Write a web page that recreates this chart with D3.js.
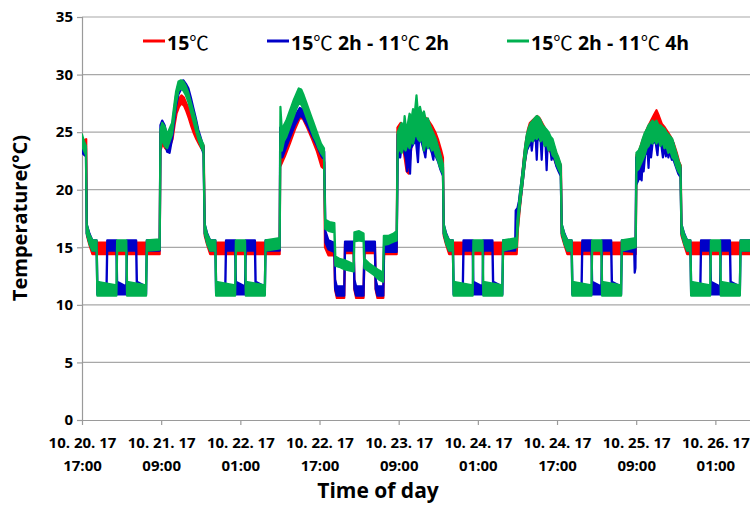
<!DOCTYPE html>
<html>
<head>
<meta charset="utf-8">
<script src="https://cdn.jsdelivr.net/npm/d3@7"></script>
<style>
    body { margin: 0; background: #fff; }
    svg text { font-family: "Open Sans", "Noto Sans", sans-serif; font-weight: 700; fill: #000; }
    .deg { font-family: "Noto Sans CJK KR", sans-serif; font-weight: 400; }
</style>
</head>
<body>
<svg id="chart" width="750" height="505"></svg>
<script>
// hours since 10.20 17:00 ; each point = [hour, low, high] of the plotted trace
const redSeries = [
    [0, 23.6, 24.4], [0.5, 23.5, 24.3], [0.85, 23.4, 24.4],
    [1.0, 16.0, 16.8], [1.5, 15.2, 16.0], [2.1, 14.4, 15.4], [15.7, 14.4, 15.4],
    [15.85, 23.4, 25.0], [16.3, 24.0, 25.2], [16.8, 23.6, 24.8], [17.3, 23.4, 24.6], [17.8, 23.8, 24.8],
    [18.3, 24.4, 25.4], [18.7, 25.6, 26.6], [19.1, 26.6, 27.4], [19.6, 27.2, 27.9], [20.1, 27.5, 28.2],
    [20.6, 27.3, 28.0], [21.1, 26.8, 27.5], [21.6, 26.2, 27.0], [22.1, 25.5, 26.3], [22.6, 24.9, 25.7],
    [23.1, 24.4, 25.1], [23.6, 24.0, 24.6], [24.1, 23.6, 24.1], [24.6, 23.3, 23.8],
    [24.8, 16.0, 16.8], [25.3, 15.2, 16.0], [25.9, 14.4, 15.4], [39.95, 14.4, 15.4],
    [40.05, 22.0, 22.8], [41.0, 22.9, 23.6], [42.0, 24.0, 24.7], [43.0, 25.2, 25.9], [44.0, 26.2, 26.9],
    [44.6, 26.2, 26.9], [45.5, 25.4, 26.0], [46.5, 24.4, 25.0], [47.5, 23.3, 23.9], [48.4, 22.0, 22.6],
    [48.95, 21.8, 22.4],
    [49.1, 15.0, 15.9], [49.8, 14.3, 15.0], [51.0, 14.3, 15.0],
    [51.15, 11.3, 12.0], [51.5, 10.6, 11.3], [53.0, 10.6, 11.3],
    [53.15, 14.5, 15.3], [54.9, 14.5, 15.3],
    [55.05, 11.3, 12.0], [55.4, 10.6, 11.3], [56.9, 10.6, 11.3],
    [57.1, 14.5, 15.3], [59.2, 14.5, 15.3],
    [59.35, 11.3, 12.0], [59.7, 10.6, 11.3], [60.9, 10.6, 11.3],
    [61.05, 14.4, 15.2], [63.6, 14.4, 15.2],
    [63.75, 23.6, 25.4], [64.4, 24.2, 25.8], [65.0, 23.4, 25.4], [65.6, 21.6, 24.8], [66.0, 21.4, 24.6],
    [66.6, 23.8, 25.8], [67.2, 24.4, 26.2], [67.8, 24.8, 26.6], [68.4, 24.8, 26.6], [69.0, 24.6, 26.4],
    [69.6, 24.4, 26.2], [70.2, 24.2, 25.9], [70.8, 23.8, 25.5], [71.4, 23.4, 25.0], [72.0, 22.8, 24.3],
    [72.6, 22.0, 23.4], [72.95, 21.6, 22.8],
    [73.1, 16.0, 16.8], [73.6, 15.2, 16.0], [74.2, 14.4, 15.4], [87.85, 14.4, 15.4],
    [88.1, 16.6, 17.6], [88.5, 18.4, 19.4], [88.9, 20.0, 21.0], [89.3, 21.6, 22.8], [89.7, 23.0, 24.2],
    [90.1, 24.0, 25.2], [90.5, 24.6, 25.8], [91.0, 24.8, 26.0], [91.5, 25.0, 26.2], [92.0, 25.2, 26.4],
    [92.5, 25.0, 26.2], [93.0, 24.6, 25.8], [93.5, 24.2, 25.4], [94.0, 23.8, 25.0], [94.5, 23.4, 24.6],
    [95.0, 23.0, 24.2], [95.5, 22.6, 23.6], [96.0, 22.0, 23.0], [96.5, 21.6, 22.4], [96.8, 21.3, 22.1],
    [96.95, 16.0, 16.8], [97.5, 15.2, 16.0], [98.1, 14.4, 15.4], [111.9, 14.4, 15.4],
    [112.05, 21.8, 23.0], [112.6, 22.0, 23.4], [113.2, 22.6, 24.2], [113.8, 23.4, 24.9], [114.4, 24.0, 25.5],
    [115.0, 24.4, 26.0], [115.6, 24.8, 26.5], [116.1, 25.0, 26.9], [116.6, 24.8, 26.4], [117.2, 24.4, 25.7],
    [117.8, 24.0, 25.4], [118.4, 23.6, 25.0], [119.0, 23.2, 24.6], [119.6, 22.8, 24.0], [120.2, 22.2, 23.2],
    [120.7, 21.6, 22.4], [121.0, 21.3, 22.1],
    [121.15, 16.0, 16.8], [121.7, 15.2, 16.0], [122.3, 14.4, 15.4], [135, 14.4, 15.4]
];

const blueSeries = [
    [0, 23.2, 24.2], [0.5, 23.0, 23.9], [0.8, 22.9, 23.6],
    [0.95, 16.2, 17.0], [1.5, 15.4, 16.2], [2.1, 14.7, 15.6], [2.95, 14.7, 15.6],
    [3.1, 10.9, 12.0], [4.95, 10.9, 11.6], [5.1, 14.7, 15.6], [6.95, 14.7, 15.6],
    [7.1, 10.9, 12.0], [8.95, 10.9, 11.6], [9.1, 14.7, 15.6], [10.95, 14.7, 15.6],
    [11.1, 10.9, 12.0], [12.95, 10.9, 11.6], [13.1, 14.7, 15.6], [15.7, 14.7, 15.6],
    [15.85, 23.5, 25.6], [16.2, 24.8, 26.0], [16.7, 24.2, 25.6], [17.2, 23.3, 24.6], [17.7, 23.2, 24.4],
    [18.2, 24.4, 25.4], [18.6, 25.8, 26.8], [19.0, 27.2, 28.2], [19.5, 28.3, 29.2], [20.0, 28.7, 29.4],
    [20.5, 28.8, 29.5], [21.0, 28.5, 29.2], [21.5, 28.0, 28.8], [22.0, 27.2, 28.0], [22.5, 26.3, 27.1],
    [23.0, 25.4, 26.2], [23.5, 24.6, 25.2], [24.0, 23.9, 24.5], [24.55, 23.1, 23.7],
    [24.8, 16.2, 17.0], [25.3, 15.4, 16.2], [25.9, 14.7, 15.6], [26.95, 14.7, 15.6],
    [27.1, 10.9, 12.0], [28.95, 10.9, 11.6], [29.1, 14.7, 15.6], [30.95, 14.7, 15.6],
    [31.1, 10.9, 12.0], [32.95, 10.9, 11.6], [33.1, 14.7, 15.6], [34.95, 14.7, 15.6],
    [35.1, 10.9, 12.0], [36.95, 10.9, 11.6], [37.1, 14.7, 15.6], [39.95, 14.7, 15.6],
    [40.05, 23.0, 25.4], [40.5, 22.8, 23.8], [41.0, 23.4, 24.3], [42.0, 24.5, 25.3], [43.0, 25.6, 26.4],
    [44.0, 26.4, 27.1], [44.6, 26.3, 27.0], [45.5, 25.6, 26.3], [46.5, 24.7, 25.4], [47.5, 23.8, 24.5],
    [48.4, 22.9, 23.6], [48.95, 22.6, 23.3],
    [49.2, 15.4, 16.4], [49.8, 14.8, 15.6], [51.0, 14.6, 15.4],
    [51.15, 11.4, 12.2], [51.5, 10.8, 11.6], [53.0, 10.8, 11.6],
    [53.15, 14.7, 15.5], [54.9, 14.7, 15.5],
    [55.05, 11.4, 12.2], [55.4, 10.8, 11.6], [56.9, 10.8, 11.6],
    [57.1, 14.7, 15.5], [59.2, 14.7, 15.5],
    [59.35, 11.4, 12.2], [59.7, 10.8, 11.6], [60.9, 10.8, 11.6],
    [61.05, 14.6, 15.4], [63.6, 14.6, 15.4],
    [63.8, 22.6, 24.8], [64.1, 23.4, 25.0], [64.3, 22.8, 24.8], [64.5, 23.4, 25.2], [65.0, 23.6, 25.0],
    [65.5, 22.6, 25.2], [65.7, 21.6, 24.8], [65.9, 23.4, 25.2], [66.3, 21.4, 25.0], [66.5, 23.6, 25.6],
    [67.0, 24.0, 26.0], [67.5, 24.2, 26.0], [67.9, 22.4, 25.8], [68.1, 24.2, 26.2], [68.6, 24.2, 26.0],
    [69.2, 23.2, 25.8], [69.4, 22.8, 25.6], [69.6, 23.8, 25.6], [70.2, 23.8, 25.2], [70.7, 23.2, 24.8],
    [71.0, 22.6, 24.6], [71.2, 23.4, 24.6], [71.6, 22.8, 24.2], [72.0, 22.4, 23.6], [72.4, 21.8, 23.0],
    [72.95, 21.2, 22.0],
    [73.1, 16.2, 17.0], [73.6, 15.4, 16.2], [74.2, 14.7, 15.6], [74.95, 14.7, 15.6],
    [75.1, 10.9, 12.0], [76.95, 10.9, 11.6], [77.1, 14.7, 15.6], [78.95, 14.7, 15.6],
    [79.1, 10.9, 12.0], [80.95, 10.9, 11.6], [81.1, 14.7, 15.6], [82.95, 14.7, 15.6],
    [83.1, 10.9, 12.0], [84.95, 10.9, 11.6], [85.1, 14.7, 15.6], [87.55, 14.7, 15.6],
    [87.65, 17.4, 18.2], [88.0, 17.6, 18.4], [88.3, 18.0, 19.0], [88.7, 19.4, 20.4], [89.1, 20.8, 21.8],
    [89.5, 22.4, 23.4], [89.9, 23.4, 24.6], [90.3, 23.8, 25.2], [90.7, 24.2, 25.6], [90.9, 23.4, 25.6],
    [91.1, 24.2, 25.8], [91.7, 24.4, 26.0], [91.9, 22.6, 26.0], [92.1, 24.6, 26.2], [92.7, 24.2, 25.8],
    [92.9, 22.6, 25.6], [93.1, 24.4, 25.4], [93.7, 23.8, 25.2], [93.9, 21.7, 25.0], [94.1, 23.8, 25.0],
    [94.7, 23.4, 24.4], [94.9, 22.6, 24.2], [95.1, 23.0, 24.2], [95.5, 22.6, 23.6], [95.9, 22.0, 23.0],
    [96.3, 21.6, 22.6], [96.75, 21.2, 22.0],
    [96.95, 16.2, 17.0], [97.5, 15.4, 16.2], [98.1, 14.7, 15.6], [98.95, 14.7, 15.6],
    [99.1, 10.9, 12.0], [100.95, 10.9, 11.6], [101.1, 14.7, 15.6], [102.95, 14.7, 15.6],
    [103.1, 10.9, 12.0], [104.95, 10.9, 11.6], [105.1, 14.7, 15.6], [106.95, 14.7, 15.6],
    [107.1, 10.9, 12.0], [108.95, 10.9, 11.6], [109.1, 14.7, 15.6], [111.6, 14.6, 15.4],
    [111.7, 12.8, 13.6], [111.85, 13.2, 14.2],
    [112.0, 20.4, 22.8], [112.4, 20.8, 23.0], [112.8, 21.2, 23.2], [113.1, 20.8, 23.6], [113.3, 22.6, 24.0],
    [113.5, 21.6, 24.2], [113.8, 23.0, 24.6], [114.3, 23.4, 25.0], [114.5, 21.9, 25.0], [114.7, 23.8, 25.4],
    [115.0, 22.8, 25.6], [115.3, 24.0, 25.8], [115.9, 24.2, 25.6], [116.3, 23.0, 25.6], [116.5, 24.2, 25.4],
    [117.1, 23.8, 25.4], [117.4, 22.8, 25.2], [117.6, 23.8, 25.2], [118.0, 22.9, 24.8], [118.2, 23.8, 24.8],
    [118.5, 22.8, 24.6], [118.7, 23.4, 24.6], [119.2, 22.6, 24.2], [119.4, 22.8, 24.2], [119.7, 22.4, 23.6],
    [120.1, 21.9, 23.0], [120.5, 21.4, 22.4], [120.95, 21.1, 21.9],
    [121.15, 16.2, 17.0], [121.7, 15.4, 16.2], [122.3, 14.7, 15.6], [122.95, 14.7, 15.6],
    [123.1, 10.9, 12.0], [124.95, 10.9, 11.6], [125.1, 14.7, 15.6], [126.95, 14.7, 15.6],
    [127.1, 10.9, 12.0], [128.95, 10.9, 11.6], [129.1, 14.7, 15.6], [130.95, 14.7, 15.6],
    [131.1, 10.9, 12.0], [132.95, 10.9, 11.6], [133.1, 14.7, 15.6], [135, 14.7, 15.6]
];

const greenSeries = [
    [0, 23.8, 24.8], [0.4, 23.4, 24.2], [0.8, 23.0, 23.8],
    [0.95, 16.2, 17.0], [1.5, 15.3, 16.1], [2.1, 14.7, 15.6], [2.95, 14.7, 15.6],
    [3.1, 10.8, 12.0], [6.95, 10.8, 11.7], [7.1, 14.7, 15.6], [8.95, 14.7, 15.6],
    [9.1, 10.8, 12.0], [12.95, 10.8, 11.7], [13.1, 14.7, 15.6], [15.7, 14.8, 15.7],
    [15.85, 23.5, 25.2], [16.2, 24.5, 25.8], [16.7, 23.8, 25.5], [17.2, 23.6, 24.8], [17.7, 24.2, 25.3],
    [18.2, 24.8, 25.8], [18.6, 26.2, 27.2], [19.0, 27.5, 28.5], [19.5, 28.6, 29.4], [20.0, 28.8, 29.5],
    [20.5, 28.6, 29.4], [21.0, 28.2, 29.0], [21.5, 27.6, 28.4], [22.0, 26.8, 27.6], [22.5, 26.0, 26.8],
    [23.0, 25.2, 26.0], [23.5, 24.4, 25.0], [24.0, 23.8, 24.4], [24.55, 23.3, 23.9],
    [24.8, 16.2, 17.0], [25.3, 15.3, 16.1], [25.9, 14.7, 15.6], [26.95, 14.7, 15.6],
    [27.1, 10.8, 12.0], [30.95, 10.8, 11.7], [31.1, 14.7, 15.6], [32.95, 14.7, 15.6],
    [33.1, 10.8, 12.0], [36.95, 10.8, 11.7], [37.1, 14.7, 15.6], [39.95, 14.9, 15.8],
    [40.1, 24.5, 27.2], [40.4, 23.4, 25.0], [40.8, 24.2, 25.6], [41.3, 24.6, 26.0], [41.8, 25.2, 26.6],
    [42.3, 25.8, 27.2], [42.8, 26.4, 27.8], [43.3, 27.0, 28.3], [43.8, 27.5, 28.8], [44.3, 27.4, 28.7],
    [44.8, 27.0, 28.2], [45.3, 26.4, 27.6], [45.8, 25.8, 27.0], [46.3, 25.2, 26.4], [46.8, 24.6, 25.8],
    [47.3, 24.2, 25.2], [47.8, 23.6, 24.6], [48.3, 23.2, 24.0], [48.9, 22.8, 23.6],
    [49.15, 16.6, 17.4], [50.0, 16.4, 17.2], [51.0, 16.3, 17.1],
    [51.2, 13.4, 14.2], [52.0, 13.3, 14.0], [53.0, 13.1, 13.9], [54.0, 13.0, 13.7], [54.9, 12.9, 13.5],
    [55.05, 15.5, 16.3], [56.0, 15.6, 16.4], [56.9, 15.5, 16.2],
    [57.05, 13.2, 14.0], [58.0, 12.9, 13.6], [59.0, 12.6, 13.3], [60.0, 12.2, 13.0], [60.85, 12.0, 12.8],
    [61.0, 15.2, 16.0], [62.0, 15.3, 16.0], [63.0, 15.5, 16.2], [63.6, 15.6, 16.4],
    [63.8, 23.2, 25.0], [64.2, 23.6, 25.4], [64.6, 23.2, 25.8], [65.0, 23.8, 25.2], [65.2, 23.6, 26.4],
    [65.4, 23.4, 25.6], [65.8, 24.0, 25.6], [66.2, 23.6, 26.6], [66.6, 24.4, 26.2], [66.9, 24.0, 27.0],
    [67.2, 24.6, 26.4], [67.6, 24.8, 28.2], [67.9, 24.4, 26.6], [68.3, 24.2, 27.2], [68.7, 24.6, 26.4],
    [69.1, 23.4, 26.8], [69.5, 24.2, 26.0], [69.9, 23.6, 26.2], [70.3, 24.0, 25.6], [70.7, 23.4, 25.2],
    [71.1, 23.6, 24.8], [71.5, 23.0, 24.4], [71.9, 22.6, 23.8], [72.3, 22.0, 23.2], [72.7, 21.6, 22.6],
    [72.95, 21.4, 22.2],
    [73.1, 16.2, 17.0], [73.6, 15.3, 16.1], [74.2, 14.7, 15.6], [74.95, 14.7, 15.6],
    [75.1, 10.8, 12.0], [78.95, 10.8, 11.7], [79.1, 14.7, 15.6], [80.95, 14.7, 15.6],
    [81.1, 10.8, 12.0], [84.95, 10.8, 11.7], [85.1, 14.7, 15.6], [87.85, 15.0, 15.8],
    [88.0, 16.2, 17.4], [88.3, 17.8, 18.8], [88.7, 19.4, 20.4], [89.1, 20.8, 21.8], [89.5, 22.4, 23.6],
    [89.9, 23.6, 24.8], [90.3, 24.0, 25.4], [90.7, 24.4, 25.8], [91.1, 24.2, 26.0], [91.5, 24.6, 26.2],
    [91.9, 24.4, 26.4], [92.3, 24.8, 26.3], [92.7, 24.2, 26.0], [93.1, 24.6, 25.6], [93.5, 23.8, 25.4],
    [93.9, 24.0, 25.2], [94.3, 23.4, 25.0], [94.7, 23.6, 24.6], [95.1, 23.0, 24.4], [95.5, 22.8, 23.8],
    [95.9, 22.2, 23.2], [96.3, 21.8, 22.8], [96.75, 21.4, 22.2],
    [96.95, 16.2, 17.0], [97.5, 15.3, 16.1], [98.1, 14.7, 15.6], [98.95, 14.7, 15.6],
    [99.1, 10.8, 12.0], [102.95, 10.8, 11.7], [103.1, 14.7, 15.6], [104.95, 14.7, 15.6],
    [105.1, 10.8, 12.0], [108.95, 10.8, 11.7], [109.1, 14.7, 15.6], [111.9, 15.0, 15.8],
    [112.05, 21.6, 23.2], [112.5, 21.8, 23.4], [112.9, 22.2, 23.8], [113.3, 22.6, 24.4], [113.7, 23.0, 24.9],
    [114.1, 23.6, 25.2], [114.5, 23.8, 25.6], [114.9, 24.2, 25.8], [115.3, 24.0, 26.0], [115.7, 24.4, 25.8],
    [116.1, 24.0, 26.0], [116.5, 24.4, 25.6], [116.9, 23.8, 25.6], [117.3, 24.2, 25.4], [117.7, 23.6, 25.3],
    [118.1, 23.8, 25.0], [118.5, 23.2, 24.8], [118.9, 23.4, 24.6], [119.3, 22.8, 24.4], [119.7, 22.6, 23.8],
    [120.1, 22.0, 23.2], [120.5, 21.6, 22.6], [120.95, 21.3, 22.1],
    [121.15, 16.2, 17.0], [121.7, 15.3, 16.1], [122.3, 14.7, 15.6], [122.95, 14.7, 15.6],
    [123.1, 10.8, 12.0], [126.95, 10.8, 11.7], [127.1, 14.7, 15.6], [128.95, 14.7, 15.6],
    [129.1, 10.8, 12.0], [132.95, 10.8, 11.7], [133.1, 14.7, 15.6], [135, 14.7, 15.6]
];

const seriesNames = ["15", "15 2h - 11 2h", "15 2h - 11 4h"];
const seriesColors = ["#ff0000", "#0000c8", "#00b050"];
const yTicks = [0, 5, 10, 15, 20, 25, 30, 35];
const xTickHours = [0, 16, 32, 48, 64, 80, 96, 112, 128];
const xTickDates = ["10. 20. 17", "10. 21. 17", "10. 22. 17", "10. 22. 17", "10. 23. 17", "10. 24. 17", "10. 24. 17", "10. 25. 17", "10. 26. 17"];
const xTickTimes = ["17:00", "09:00", "01:00", "17:00", "09:00", "01:00", "17:00", "09:00", "01:00"];

const svg = d3.select("#chart");
const plotLeft = 82, plotRight = 750, plotTop = 17, plotBottom = 420;

const x = d3.scaleLinear().domain([0, 135]).range([plotLeft, plotRight]);
const y = d3.scaleLinear().domain([0, 35]).range([plotBottom, plotTop]);

// gridlines
svg.append("g")
    .selectAll("line")
    .data(yTicks.filter(d => d > 0))
    .join("line")
    .attr("x1", plotLeft).attr("x2", plotRight)
    .attr("y1", d => y(d)).attr("y2", d => y(d))
    .attr("stroke", "#a8a8a8")
    .attr("stroke-width", 1.2);

// axes
const yAxis = svg.append("g")
    .attr("transform", `translate(${plotLeft},0)`)
    .call(d3.axisLeft(y).tickValues(yTicks).tickSize(5).tickPadding(4));
yAxis.selectAll("text").style("font-size", "15px");

const xAxis = svg.append("g")
    .attr("transform", `translate(0,${plotBottom})`)
    .call(d3.axisBottom(x).tickValues(xTickHours).tickSize(5).tickFormat(""));
xAxis.selectAll(".tick").append("text")
    .attr("text-anchor", "middle")
    .style("font-size", "15px")
    .each(function (d, i) {
        const t = d3.select(this);
        t.append("tspan").attr("x", 0).attr("y", 28).text(xTickDates[i]);
        t.append("tspan").attr("x", 0).attr("y", 51).text(xTickTimes[i]);
    });

svg.selectAll(".domain, .tick line").attr("stroke", "#9a9a9a").attr("stroke-width", 1.2);
xAxis.select(".domain").attr("d", `M${plotLeft},0.5H${plotRight}`);
yAxis.select(".domain").attr("d", `M0.5,${plotTop}V${plotBottom}`);

// data traces
svg.append("clipPath").attr("id", "plot-clip")
    .append("rect")
    .attr("x", plotLeft).attr("y", plotTop)
    .attr("width", plotRight - plotLeft).attr("height", plotBottom - plotTop);

const band = d3.area()
    .x(d => x(d[0]))
    .y0(d => y(d[1]))
    .y1(d => y(d[2]));

const traces = svg.append("g").attr("clip-path", "url(#plot-clip)");
[redSeries, blueSeries, greenSeries].forEach((series, i) => {
    traces.append("path")
        .datum(series)
        .attr("d", band)
        .attr("fill", seriesColors[i])
        .attr("stroke", seriesColors[i])
        .attr("stroke-width", 2.2)
        .attr("stroke-linejoin", "round");
});

// legend
const legendX = [143, 267, 507];
const legend = svg.append("g");
seriesNames.forEach((name, i) => {
    const g = legend.append("g").attr("transform", `translate(${legendX[i]},0)`);
    g.append("line")
        .attr("x1", 0).attr("x2", 22)
        .attr("y1", 41).attr("y2", 41)
        .attr("stroke", seriesColors[i])
        .attr("stroke-width", 3);
    const label = g.append("text")
        .attr("x", 24).attr("y", 50)
        .style("font-size", "19.5px");
    const parts = name.split(" ");
    parts.forEach((p, j) => {
        if (j > 0) label.append("tspan").text(" ");
        label.append("tspan").text(p);
        if (p === "15" || p === "11") label.append("tspan").attr("class", "deg").text("℃");
    });
});

// axis titles
svg.append("text")
    .attr("transform", `translate(27,218) rotate(-90)`)
    .attr("text-anchor", "middle")
    .style("font-size", "20px")
    .text("Temperature(°C)");

svg.append("text")
    .attr("x", 378).attr("y", 498)
    .attr("text-anchor", "middle")
    .style("font-size", "21px")
    .text("Time of day");
</script>
</body>
</html>
